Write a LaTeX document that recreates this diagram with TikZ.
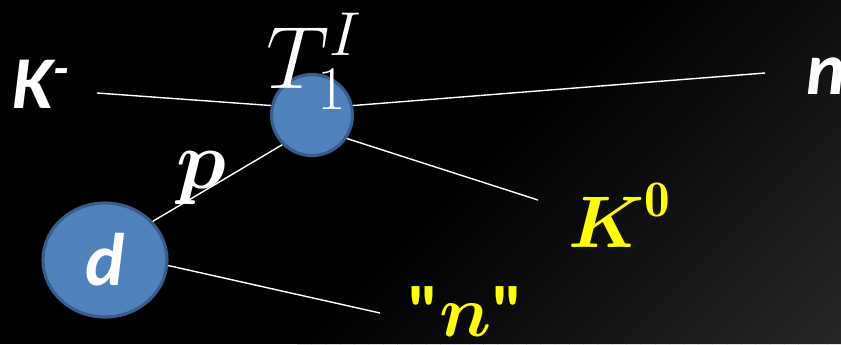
\RequirePackage{fix-cm}
\documentclass[tikz,border=0pt]{standalone}
\usepackage{amsmath}
\usepackage{fontspec}
\usepackage{tikz}
\usetikzlibrary{shapes.geometric}
\newfontfamily\calibri{Carlito}
\definecolor{ballfill}{HTML}{4F81BD}
\definecolor{balledge}{HTML}{385D8A}
\definecolor{kaonyellow}{HTML}{FFFF00}

\begin{document}
\begin{tikzpicture}[x=0.025cm, y=-0.025cm,
  ball/.style={draw=balledge, fill=ballfill, line width=2.2pt, inner sep=0pt},
  track/.style={draw=white, line width=1pt},
  sanslabel/.style={text=white, inner sep=0pt, anchor=base west, font=\calibri\bfseries\itshape\fontsize{53}{53}\selectfont},
  seriflabel/.style={inner sep=0pt, anchor=base west, font=\fontsize{52}{52}\selectfont}]
  \useasboundingbox (0,0) rectangle (841,344);

  % background, lighter towards the lower right
  \fill[black] (0,0) rectangle (841,344);
  \begin{scope}
    \clip (-10,-10) rectangle (841,354);
    \foreach \i in {0,...,37} {
      \pgfmathsetmacro\sa{641+\i*14.32}
      \pgfmathsetmacro\sb{\sa+15}
      \pgfmathsetmacro\g{(\i+0.5)*15/38}
      \fill[white!\g!black] (\sa,0) -- (\sb,0) -- (\sb-344,344) -- (\sa-344,344) -- cycle;
    }
  \end{scope}

  % particles
  \node[ball, circle, minimum size=2.025cm] (T) at (312,115) {};
  \node[ball, ellipse, minimum width=3.1cm, minimum height=2.85cm, text=white, font=\calibri\bfseries\itshape\fontsize{53}{53}\selectfont] (d) at (105,260) {d\hspace{0.45cm}};

  % free ends of the tracks
  \coordinate (kmEnd) at (97,93);
  \coordinate (nEnd) at (765,73);
  \coordinate (kzEnd) at (538,200);
  \coordinate (nqEnd) at (380,313);

  \draw[track] (kmEnd) -- (T.167);
  \draw[track] (T.13) -- (nEnd);
  \draw[track] (T.-34) -- (kzEnd);
  \draw[track] (T.225) -- (d.39);
  \draw[track] (d.-5) -- (nqEnd);

  % labels
  \node[sanslabel] (km) at (12,108) {K\raisebox{0.3em}{\fontsize{36}{36}\selectfont -}};
  \node[sanslabel] (n) at (806,94) {n};
  \node[seriflabel, text=white, font=\fontsize{63}{63}\selectfont] (tlabel) at (266,88) {$T_1^I$};
  \node[seriflabel, text=white, font=\fontsize{59}{59}\selectfont] (p) at (176,188) {$\boldsymbol{p}$};
  \node[seriflabel, text=kaonyellow] (kz) at (568,247) {$\boldsymbol{K}^{\mathbf{0}}$};
  \node[seriflabel, text=kaonyellow] (nq) at (407,336) {{\calibri\bfseries "}$\boldsymbol{n}${\calibri\bfseries "}};
\end{tikzpicture}
\end{document}
